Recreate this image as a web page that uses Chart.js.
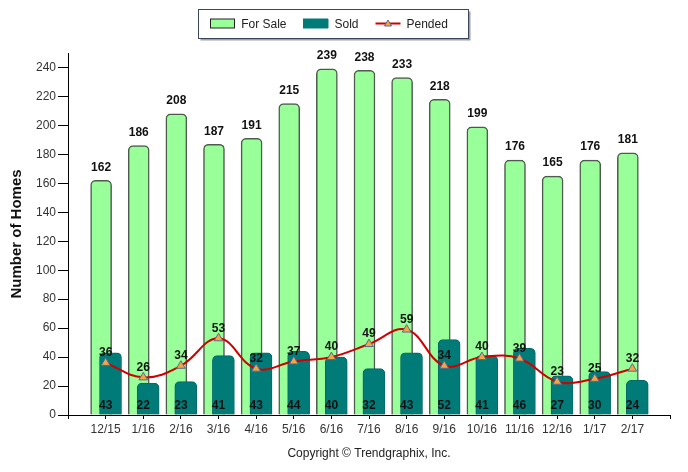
<!DOCTYPE html>
<html>
<head>
<meta charset="utf-8">
<script src="https://cdn.jsdelivr.net/npm/chart.js@4.4.1/dist/chart.umd.min.js"></script>
<style>
  html, body { margin: 0; padding: 0; background: #fff; }
  #wrap { width: 688px; height: 472px; }
</style>
</head>
<body>
<div id="wrap"><canvas id="chart"></canvas></div>
<script>
var months = ['12/15', '1/16', '2/16', '3/16', '4/16', '5/16', '6/16', '7/16', '8/16', '9/16', '10/16', '11/16', '12/16', '1/17', '2/17'];
var forSale = [162, 186, 208, 187, 191, 215, 239, 238, 233, 218, 199, 176, 165, 176, 181];
var sold = [43, 22, 23, 41, 43, 44, 40, 32, 43, 52, 41, 46, 27, 30, 24];
var pended = [36, 26, 34, 53, 32, 37, 40, 49, 59, 34, 40, 39, 23, 25, 32];
var yTicks = [0, 20, 40, 60, 80, 100, 120, 140, 160, 180, 200, 220, 240];

var FONT = "'Liberation Sans', Arial, sans-serif";

function points(arr) {
    return arr.map(function (v, i) { return { x: i + 1, y: v }; });
}

// invisible helper axis, used to shift one bar series sideways
function shiftedAxis(shift) {
    return {
        type: 'linear',
        position: 'bottom',
        offset: false,
        min: -shift,
        max: months.length + 1 - shift,
        afterFit: function (s) { s.height = 0; },
        ticks: { display: false },
        grid: { display: false, offset: false },
        border: { display: false }
    };
}

// value labels, legend and copyright line
var labelsPlugin = {
    id: 'valueLabels',
    afterDatasetsDraw: function (chart) {
        var ctx = chart.ctx;
        var x = chart.scales.x, y = chart.scales.y;
        ctx.save();
        ctx.textAlign = 'center';
        ctx.textBaseline = 'middle';
        ctx.fillStyle = '#111';
        ctx.font = 'bold 12px ' + FONT;
        chart.getDatasetMeta(0).data.forEach(function (bar, i) {
            ctx.fillText(forSale[i], bar.x, bar.y - 13);
        });
        sold.forEach(function (v, i) {
            ctx.fillText(v, x.getPixelForValue(i + 1), y.getPixelForValue(0) - 9);
        });
        chart.getDatasetMeta(2).data.forEach(function (pt, i) {
            ctx.fillText(pended[i], pt.x, pt.y - 10);
        });
        ctx.restore();
    },
    afterDraw: function (chart) {
        var ctx = chart.ctx;
        var area = chart.chartArea;
        ctx.save();
        ctx.font = '12px ' + FONT;
        ctx.fillStyle = '#222';
        ctx.textAlign = 'center';
        ctx.textBaseline = 'middle';
        ctx.fillText('Copyright \u00A9 Trendgraphix, Inc.', (area.left + area.right) / 2, 454);

        // legend box
        var ds = chart.data.datasets;
        var widths = ds.map(function (d) { return ctx.measureText(d.label).width; });
        var total = 17 * 2;
        widths.forEach(function (w) { total += 25 + 6 + w; });
        var left = 329 - total / 2;
        var fx = Math.round(left - 12) + 0.5, fy = 9.5, fw = Math.round(total + 32), fh = 29;
        ctx.fillStyle = '#a0a0a0';
        ctx.fillRect(fx + 2, fy + 2, fw, fh);
        ctx.fillStyle = '#fff';
        ctx.fillRect(fx, fy, fw, fh);
        ctx.strokeStyle = '#3a4660';
        ctx.lineWidth = 1;
        ctx.strokeRect(fx, fy, fw, fh);
        var lx = left, ly = 23.5;
        ctx.textAlign = 'left';
        ds.forEach(function (d, k) {
            if (d.type === 'line') {
                ctx.strokeStyle = d.borderColor;
                ctx.lineWidth = 2;
                ctx.beginPath();
                ctx.moveTo(lx, ly);
                ctx.lineTo(lx + 25, ly);
                ctx.stroke();
                ctx.fillStyle = d.pointBackgroundColor;
                ctx.strokeStyle = d.pointBorderColor;
                ctx.lineWidth = 1;
                ctx.beginPath();
                ctx.moveTo(lx + 12.5, ly - 3.5);
                ctx.lineTo(lx + 16, ly + 2.5);
                ctx.lineTo(lx + 9, ly + 2.5);
                ctx.closePath();
                ctx.fill();
                ctx.stroke();
            } else {
                ctx.fillStyle = d.backgroundColor;
                ctx.fillRect(lx, ly - 4.5, 25, 9);
                ctx.strokeStyle = k === 0 ? '#222' : d.backgroundColor;
                ctx.lineWidth = 1;
                ctx.strokeRect(Math.round(lx) + 0.5, ly - 4.5, 24, 9);
            }
            ctx.fillStyle = '#222';
            ctx.fillText(d.label, lx + 31, ly + 1);
            lx += 31 + widths[k] + 17;
        });
        ctx.restore();
    }
};

new Chart(document.getElementById('chart').getContext('2d'), {
    data: {
        datasets: [{
            type: 'bar',
            label: 'For Sale',
            data: points(forSale),
            xAxisID: 'xSale',
            backgroundColor: '#99ff99',
            borderColor: '#4d5a4d',
            borderWidth: 1.5,
            borderRadius: 5,
            borderSkipped: 'bottom',
            barThickness: 21,
            grouped: false,
            order: 2
        }, {
            type: 'bar',
            label: 'Sold',
            data: points(sold),
            xAxisID: 'xSold',
            backgroundColor: '#007b78',
            borderColor: '#006a68',
            borderWidth: 1,
            borderRadius: 5,
            borderSkipped: 'bottom',
            barThickness: 22,
            grouped: false,
            order: 1
        }, {
            type: 'line',
            label: 'Pended',
            data: points(pended),
            xAxisID: 'x',
            borderColor: '#d10000',
            borderWidth: 2,
            tension: 0.4,
            pointStyle: 'triangle',
            pointRadius: 5,
            pointBackgroundColor: '#f5a640',
            pointBorderColor: '#5b6790',
            pointBorderWidth: 1,
            order: 0
        }]
    },
    options: {
        responsive: true,
        maintainAspectRatio: false,
        animation: false,
        layout: { padding: { top: 53, right: 18, bottom: 0, left: 0 } },
        plugins: {
            legend: { display: false },
            tooltip: { enabled: false }
        },
        scales: {
            x: {
                type: 'linear',
                position: 'bottom',
                offset: false,
                min: 0,
                max: months.length + 1,
                afterFit: function (s) { s.height = 57; },
                afterBuildTicks: function (s) {
                    s.ticks = [];
                    for (var i = 0; i <= months.length + 1; i++) s.ticks.push({ value: i });
                },
                ticks: {
                    autoSkip: false,
                    maxRotation: 0,
                    padding: 3,
                    color: '#333',
                    font: { family: FONT, size: 12 },
                    callback: function (v) { return months[v - 1] || ''; }
                },
                grid: { drawOnChartArea: false, offset: false, tickLength: 4, color: '#000' },
                border: { color: '#000', width: 1 }
            },
            xSale: shiftedAxis(-0.12),
            xSold: shiftedAxis(0.13),
            y: {
                min: 0,
                max: 250,
                afterFit: function (s) { s.width = 68; },
                afterBuildTicks: function (s) {
                    s.ticks = yTicks.map(function (v) { return { value: v }; });
                },
                ticks: {
                    padding: 2,
                    color: '#333',
                    font: { family: FONT, size: 12 }
                },
                grid: { drawOnChartArea: false, tickLength: 10, color: '#000' },
                border: { color: '#000', width: 1 },
                title: {
                    display: true,
                    text: 'Number of Homes',
                    color: '#111',
                    font: { family: FONT, size: 15, weight: 'bold' },
                    padding: { top: 8, bottom: 0 }
                }
            }
        }
    },
    plugins: [labelsPlugin]
});
</script>
</body>
</html>
